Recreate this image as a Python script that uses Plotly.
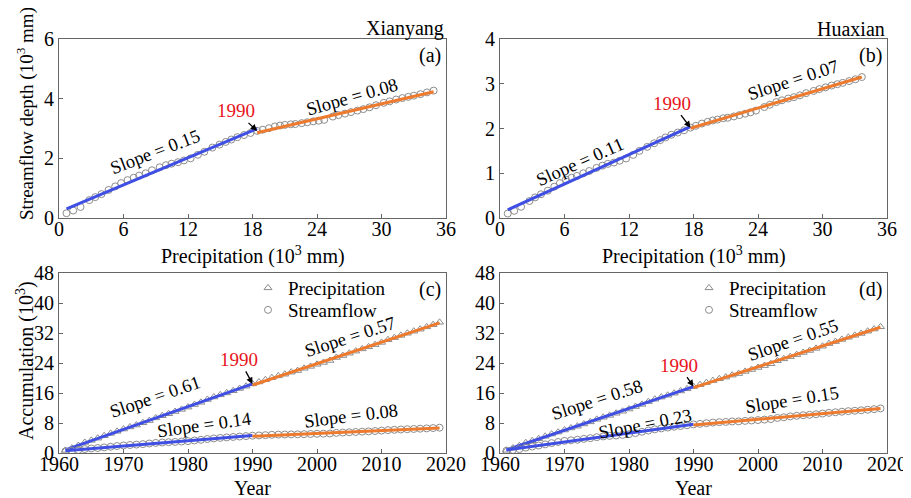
import numpy as np
import plotly.graph_objects as go

# ---------------- data ----------------
years = list(range(1961, 2020))
break_year = 1990

# Xianyang: cumulative precipitation (10^3 mm)
prec_xy = [0.70, 1.32, 2.00, 2.82, 3.37, 3.95, 4.61, 5.23, 5.78, 6.38, 6.95, 7.45, 8.07, 8.65, 9.37,
           9.95, 10.47, 11.07, 11.62, 12.24, 12.92, 13.52, 14.27, 14.93, 15.51, 16.03, 16.59, 17.21, 17.81, 18.43,
           18.95, 19.53, 20.08, 20.56, 21.01, 21.56, 21.98, 22.58, 23.10, 23.65, 24.15, 24.67, 25.47, 25.99, 26.61,
           27.16, 27.76, 28.31, 28.89, 29.49, 30.21, 30.76, 31.36, 31.94, 32.49, 33.01, 33.63, 34.23, 34.85]
# Xianyang: cumulative streamflow depth (10^3 mm), panel (a)
depth_xy = [0.16, 0.25, 0.37, 0.60, 0.70, 0.80, 0.94, 1.06, 1.17, 1.27, 1.35, 1.42, 1.50, 1.60, 1.70,
            1.77, 1.82, 1.87, 1.93, 2.00, 2.12, 2.22, 2.36, 2.46, 2.55, 2.63, 2.71, 2.78, 2.85, 2.92,
            2.96, 3.01, 3.07, 3.10, 3.12, 3.14, 3.15, 3.18, 3.21, 3.24, 3.26, 3.29, 3.40, 3.45, 3.50,
            3.55, 3.60, 3.65, 3.71, 3.78, 3.86, 3.91, 3.97, 4.02, 4.06, 4.10, 4.15, 4.21, 4.27]
# Xianyang: streamflow accumulation (10^3), panel (c)
flow_xy = [0.45, 0.62, 0.80, 1.05, 1.20, 1.33, 1.49, 1.67, 1.85, 2.01, 2.13, 2.24, 2.37, 2.53, 2.69,
           2.80, 2.88, 2.95, 3.05, 3.16, 3.35, 3.51, 3.73, 3.89, 4.03, 4.16, 4.28, 4.39, 4.50, 4.61,
           4.68, 4.76, 4.85, 4.90, 4.93, 4.96, 4.98, 5.02, 5.07, 5.12, 5.15, 5.20, 5.37, 5.45, 5.53,
           5.61, 5.69, 5.77, 5.86, 5.97, 6.10, 6.18, 6.27, 6.35, 6.41, 6.48, 6.56, 6.65, 6.75]

# Huaxian: cumulative precipitation (10^3 mm)
prec_hx = [0.72, 1.32, 1.96, 2.74, 3.26, 3.81, 4.45, 5.05, 5.57, 6.13, 6.67, 7.15, 7.75, 8.30, 8.98,
           9.53, 10.03, 10.60, 11.13, 11.73, 12.39, 12.97, 13.70, 14.34, 14.90, 15.40, 15.94, 16.54, 17.12, 17.72,
           18.22, 18.78, 19.32, 19.79, 20.23, 20.77, 21.18, 21.76, 22.27, 22.81, 23.30, 23.81, 24.59, 25.10, 25.70,
           26.23, 26.81, 27.34, 27.90, 28.48, 29.18, 29.71, 30.29, 30.85, 31.38, 31.88, 32.48, 33.06, 33.66]
# Huaxian: cumulative streamflow depth (10^3 mm), panel (b)
depth_hx = [0.10, 0.16, 0.25, 0.38, 0.46, 0.53, 0.61, 0.70, 0.78, 0.86, 0.90, 0.94, 1.00, 1.05, 1.12,
            1.17, 1.21, 1.24, 1.28, 1.33, 1.41, 1.50, 1.59, 1.67, 1.74, 1.80, 1.86, 1.91, 1.96, 2.02,
            2.06, 2.11, 2.15, 2.18, 2.20, 2.23, 2.24, 2.27, 2.30, 2.33, 2.36, 2.40, 2.48, 2.53, 2.59,
            2.63, 2.67, 2.70, 2.74, 2.79, 2.84, 2.88, 2.92, 2.96, 2.99, 3.02, 3.06, 3.10, 3.15]
# Huaxian: streamflow accumulation (10^3), panel (d)
flow_hx = [0.60, 0.80, 1.05, 1.43, 1.73, 2.00, 2.30, 2.64, 2.94, 3.24, 3.39, 3.54, 3.77, 3.96, 4.22,
           4.41, 4.56, 4.67, 4.83, 5.01, 5.32, 5.66, 5.99, 6.30, 6.56, 6.79, 7.01, 7.20, 7.39, 7.62,
           7.77, 7.95, 8.11, 8.22, 8.29, 8.41, 8.44, 8.56, 8.67, 8.78, 8.90, 9.05, 9.35, 9.54, 9.76,
           9.92, 10.07, 10.18, 10.33, 10.52, 10.71, 10.86, 11.01, 11.16, 11.27, 11.39, 11.54, 11.69, 11.88]

slope_labels_a = ["Slope = 0.15", "Slope = 0.08"]
slope_labels_b = ["Slope = 0.11", "Slope = 0.07"]
slope_labels_c = ["Slope = 0.61", "Slope = 0.14", "Slope = 0.57", "Slope = 0.08"]
slope_labels_d = ["Slope = 0.58", "Slope = 0.23", "Slope = 0.55", "Slope = 0.15"]
stations = ["Xianyang", "Huaxian"]
panel_tags = ["(a)", "(b)", "(c)", "(d)"]
series_names = ["Precipitation", "Streamflow"]

# ---------------- style ----------------
PAGE_PAD = 8                 # default body margin of the html page
W, H = 911 - PAGE_PAD, 498 - PAGE_PAD
FONT = "Liberation Serif"
BLUE = "#3F4FE3"
ORANGE = "#EE7A2E"
GRAY = "#8c8c8c"
RED = "#E8141C"
AXC = "#666666"


def px(x):
    return (x - PAGE_PAD) / W


def py(y):
    return 1 - (y - PAGE_PAD) / H


bi = years.index(break_year)

fig = go.Figure()


def add_panel(xs, ys, xa, ya, symbol, name=None, legend=None):
    xs = np.asarray(xs, float)
    ys = np.asarray(ys, float)
    fig.add_trace(go.Scatter(
        x=xs, y=ys, mode="markers", xaxis=xa, yaxis=ya,
        marker=dict(symbol=symbol, size=7, color=GRAY, line=dict(color=GRAY, width=1)),
        name=name or "", showlegend=name is not None, legend=legend or "legend"))
    # fitted lines before / after the break year
    p1 = np.polyfit(xs[:bi + 1], ys[:bi + 1], 1)
    x1 = np.array([xs[0], xs[bi]])
    fig.add_trace(go.Scatter(x=x1, y=np.polyval(p1, x1), mode="lines", xaxis=xa, yaxis=ya,
                             line=dict(color=BLUE, width=3), showlegend=False))
    p2 = np.polyfit(xs[bi + 1:], ys[bi + 1:], 1)
    x2 = np.array([xs[bi], xs[-1]])
    fig.add_trace(go.Scatter(x=x2, y=np.polyval(p2, x2), mode="lines", xaxis=xa, yaxis=ya,
                             line=dict(color=ORANGE, width=3), showlegend=False))


add_panel(prec_xy, depth_xy, "x", "y", "circle-open")
add_panel(prec_hx, depth_hx, "x2", "y2", "circle-open")
add_panel(years, prec_xy, "x3", "y3", "triangle-up-open", series_names[0], "legend")
add_panel(years, flow_xy, "x3", "y3", "circle-open", series_names[1], "legend2")
add_panel(years, prec_hx, "x4", "y4", "triangle-up-open", series_names[0], "legend3")
add_panel(years, flow_hx, "x4", "y4", "circle-open", series_names[1], "legend4")

xdom_l = [px(59), px(446)]
xdom_r = [px(500), px(887)]
ydom_t = [py(218), py(39)]
ydom_b = [py(453), py(273)]

tickfont = dict(family=FONT, size=20, color="black")


def axis(domain, rng, dtick, anchor, is_x):
    d = dict(domain=domain, range=rng, dtick=dtick, tick0=rng[0], anchor=anchor,
             automargin=False, showgrid=False, zeroline=False, showline=True, mirror=True,
             linecolor=AXC, linewidth=1, ticks="inside", ticklen=4, tickcolor=AXC,
             tickfont=tickfont)
    if is_x:
        d["ticklabelstandoff"] = -7
    return d


def leg(x, ytop):
    return dict(x=px(x), y=py(ytop), xanchor="left", yanchor="top",
                font=dict(family=FONT, size=19, color="black"),
                bgcolor="rgba(0,0,0,0)", borderwidth=0)


fig.update_layout(
    template="none",
    width=W, height=H, margin=dict(l=0, r=0, t=0, b=0, autoexpand=False),
    paper_bgcolor="white", plot_bgcolor="white",
    font=dict(family=FONT, color="black"),
    xaxis=axis(xdom_l, [0, 36], 6, "y", True), yaxis=axis(ydom_t, [0, 6], 2, "x", False),
    xaxis2=axis(xdom_r, [0, 36], 6, "y2", True), yaxis2=axis(ydom_t, [0, 4], 1, "x2", False),
    xaxis3=axis(xdom_l, [1960, 2020], 10, "y3", True), yaxis3=axis(ydom_b, [0, 48], 8, "x3", False),
    xaxis4=axis(xdom_r, [1960, 2020], 10, "y4", True), yaxis4=axis(ydom_b, [0, 48], 8, "x4", False),
    legend=leg(248, 269), legend2=leg(248, 291),
    legend3=leg(689, 269), legend4=leg(689, 291),
)

ann = []
SF = dict(family=FONT, size=18.5, color="black")


def slope(text, x, y, ang, xr, yr):
    ann.append(dict(text=text, x=x, y=y, xref=xr, yref=yr, showarrow=False,
                    textangle=ang, font=SF, xanchor="center", yanchor="middle"))


def mark1990(x, y, ax, ay, xr, yr):
    ann.append(dict(text=str(break_year), x=x, y=y, xref=xr, yref=yr, showarrow=True,
                    ax=ax, ay=ay, arrowhead=2, arrowsize=1, arrowwidth=1.3, arrowcolor="black",
                    font=dict(family=FONT, size=19, color=RED)))


# panel (a)
slope(slope_labels_a[0], 8.93, 2.22, -21, "x", "y")
slope(slope_labels_a[1], 27.3, 4.05, -16, "x", "y")
mark1990(prec_xy[bi], depth_xy[bi], -21.6, -20, "x", "y")
# panel (b)
slope(slope_labels_b[0], 7.44, 1.26, -24, "x2", "y2")
slope(slope_labels_b[1], 27.3, 3.08, -18, "x2", "y2")
mark1990(prec_hx[bi], depth_hx[bi], -18.7, -24.4, "x2", "y2")
# panel (c)
slope(slope_labels_c[0], 1974.9, 15.0, -19, "x3", "y3")
slope(slope_labels_c[1], 1982.5, 7.4, -8, "x3", "y3")
slope(slope_labels_c[2], 2005.1, 31.0, -18, "x3", "y3")
slope(slope_labels_c[3], 2005.2, 9.8, -7, "x3", "y3")
mark1990(break_year, prec_xy[bi], -13.2, -24.5, "x3", "y3")
# panel (d)
slope(slope_labels_d[0], 1975.0, 14.1, -18, "x4", "y4")
slope(slope_labels_d[1], 1982.5, 7.85, -11, "x4", "y4")
slope(slope_labels_d[2], 2005.5, 30.1, -19, "x4", "y4")
slope(slope_labels_d[3], 2005.2, 14.1, -9, "x4", "y4")
mark1990(break_year, prec_hx[bi], -14.8, -21.4, "x4", "y4")


def ptext(text, x, y, xanchor="center", size=20, angle=0):
    ann.append(dict(text=text, x=px(x), y=py(y), xref="paper", yref="paper", showarrow=False,
                    xanchor=xanchor, yanchor="middle", textangle=angle,
                    font=dict(family=FONT, size=size, color="black")))


ptext(stations[0], 446, 29, "right")
ptext(stations[1], 887, 29, "right")
ptext(panel_tags[0], 443, 56, "right")
ptext(panel_tags[1], 884, 56, "right")
ptext(panel_tags[2], 443, 289, "right")
ptext(panel_tags[3], 884, 289, "right")
ptext("Precipitation (10<sup>3</sup> mm)", 252.5, 255)
ptext("Precipitation (10<sup>3</sup> mm)", 693.5, 255)
ptext("Year", 252.5, 488)
ptext("Year", 693.5, 488)
ptext("Streamflow depth (10<sup>3</sup> mm)", 25, 114, size=19, angle=-90)
ptext("Accumulation (10<sup>3</sup>)", 25, 361, size=20, angle=-90)

fig.update_layout(annotations=ann)
fig.write_html("out.html")
